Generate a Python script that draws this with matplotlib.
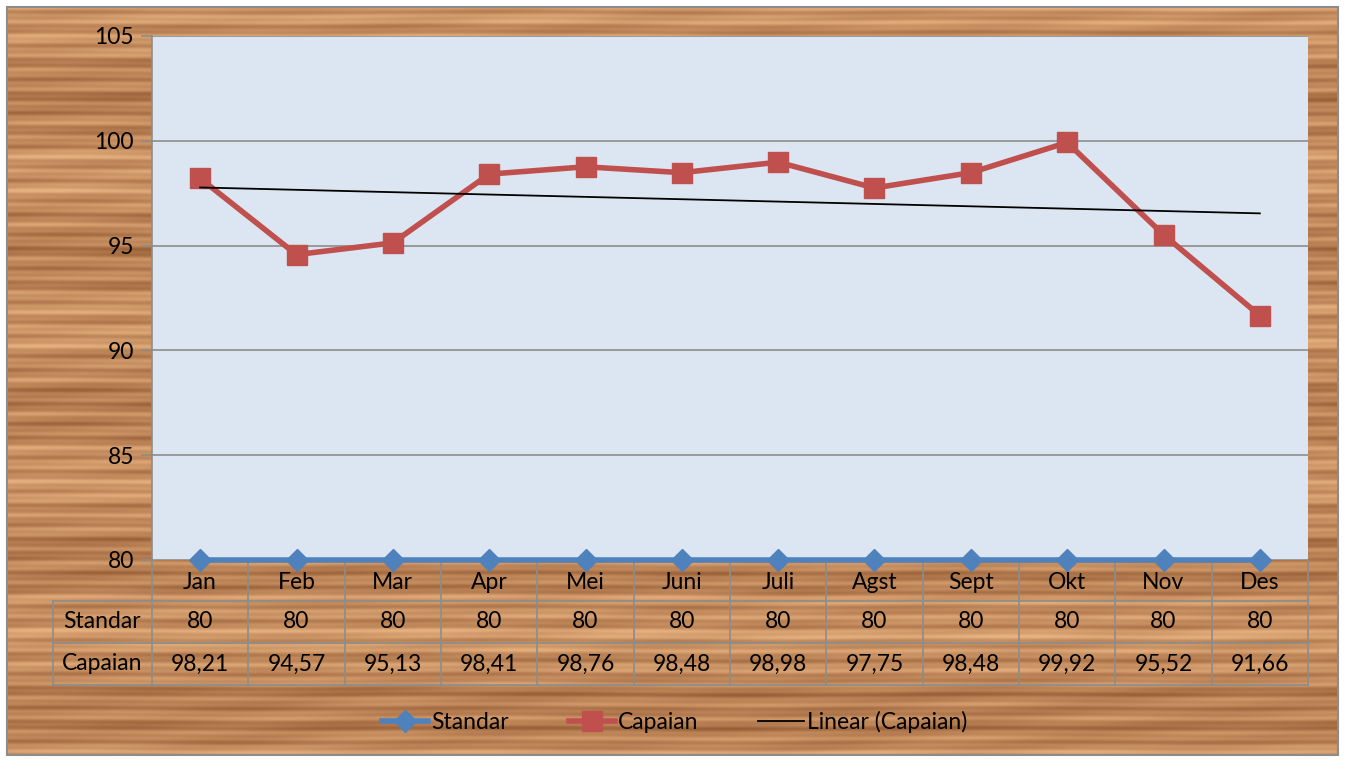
import numpy as np
import matplotlib
matplotlib.use("Agg")
import matplotlib.pyplot as plt
from matplotlib.lines import Line2D

months = ["Jan", "Feb", "Mar", "Apr", "Mei", "Juni", "Juli", "Agst", "Sept", "Okt", "Nov", "Des"]
standar = [80] * 12
capaian = [98.21, 94.57, 95.13, 98.41, 98.76, 98.48, 98.98, 97.75, 98.48, 99.92, 95.52, 91.66]
yticks = [80, 85, 90, 95, 100, 105]

W, H = 1346, 760
FS = 16.5
plt.rcParams['font.family'] = ['Lato', 'DejaVu Sans']
fig = plt.figure(figsize=(W / 100, H / 100), dpi=100)
fig.patch.set_facecolor("white")

# wood-like background (decorative)
bg = fig.add_axes([0, 0, 1, 1])
bg.set_xlim(0, W)
bg.set_ylim(H, 0)
bg.axis("off")
yy, xx = np.mgrid[0:H, 0:W].astype(float)
v = (0.55
     + 0.16 * np.sin(yy * 0.37 + 0.8 * np.sin(xx * 0.004 + yy * 0.011))
     + 0.10 * np.sin(yy * 0.93 + 0.6 * np.sin(xx * 0.013 + 1.3))
     + 0.12 * np.sin(yy * 0.041 + 0.7)
     + 0.07 * np.sin(yy * 0.17 + 0.5 * np.sin(xx * 0.021))
     + 0.05 * np.sin(xx * 0.031 + yy * 0.2))
v = np.clip(v, 0, 1)
dark = np.array([145, 88, 48]) / 255
light = np.array([232, 178, 128]) / 255
img = dark + (light - dark) * v[..., None]
x0, x1, y0, y1 = 7, 1338, 7, 755
bg.imshow(img[y0:y1, x0:x1], extent=(x0, x1, y1, y0), aspect="auto", zorder=0)
bg.add_patch(plt.Rectangle((x0, y0), x1 - x0, y1 - y0, fill=False, ec="#8c8c8c", lw=1.5, zorder=1))

# main plot
L, R, T, B = 152, 1308, 36, 560
ax = fig.add_axes([L / W, 1 - B / H, (R - L) / W, (B - T) / H])
ax.set_facecolor("#dce6f2")
x = np.arange(len(months))
ax.set_xlim(-0.5, len(months) - 0.5)
ax.set_ylim(80, 105)
ax.set_yticks(yticks)
ax.set_yticklabels([str(t) for t in yticks], fontsize=FS)
ax.set_xticks([])
ax.grid(axis="y", color="#8c8c8c", lw=1.2)
ax.set_axisbelow(True)
for s in ["top", "right", "bottom"]:
    ax.spines[s].set_visible(False)
ax.spines["left"].set_color("#8c8c8c")
ax.spines["left"].set_linewidth(1.2)
ax.tick_params(axis="y", length=8, color="#8c8c8c", width=1.2, pad=5)

blue = "#4f81bd"
red = "#c0504d"
ax.plot(x, standar, color=blue, lw=4, marker="D", ms=11, mec=blue, clip_on=False, zorder=5)
ax.plot(x, capaian, color=red, lw=4, marker="s", ms=15, mec=red, clip_on=False, zorder=6)
coef = np.polyfit(x, capaian, 1)
ax.plot(x, np.polyval(coef, x), color="black", lw=1.3, zorder=7)

# data table under the axis
tr = ax.get_xaxis_transform()
ph = B - T
rows = [0, -41 / ph, -83 / ph, -125 / ph]
lab_left = -0.5 - 99 / ((R - L) / len(months))
gc = "#8c8c8c"
for r in rows[1:]:
    ax.plot([lab_left, len(months) - 0.5], [r, r], transform=tr, color=gc, lw=1.2, clip_on=False)
for i in range(len(months) + 1):
    ax.plot([i - 0.5, i - 0.5], [rows[0], rows[3]], transform=tr, color=gc, lw=1.2, clip_on=False)
ax.plot([lab_left, lab_left], [rows[1], rows[3]], transform=tr, color=gc, lw=1.2, clip_on=False)

def mid(a, b):
    return (a + b) / 2

for i, m in enumerate(months):
    ax.text(i, mid(rows[0], rows[1]) - 0.004, m, transform=tr, ha="center", va="center", fontsize=FS)
    ax.text(i, mid(rows[1], rows[2]), str(standar[i]), transform=tr, ha="center", va="center", fontsize=FS)
    ax.text(i, mid(rows[2], rows[3]), f"{capaian[i]:.2f}".replace(".", ","), transform=tr,
            ha="center", va="center", fontsize=FS)
ax.text(mid(lab_left, -0.5), mid(rows[1], rows[2]), "Standar", transform=tr, ha="center", va="center", fontsize=FS)
ax.text(mid(lab_left, -0.5), mid(rows[2], rows[3]), "Capaian", transform=tr, ha="center", va="center", fontsize=FS)

handles = [
    Line2D([], [], color=blue, lw=4, marker="D", ms=11, mec=blue),
    Line2D([], [], color=red, lw=4, marker="s", ms=15, mec=red),
    Line2D([], [], color="black", lw=1.3),
]
fig.legend(handles, ["Standar", "Capaian", "Linear (Capaian)"], loc="center",
           bbox_to_anchor=(675 / W, 1 - 722 / H), ncol=3, frameon=False, fontsize=FS,
           handlelength=2.0, handletextpad=0.15, columnspacing=2.6)

fig.savefig("out.png", dpi=100)
